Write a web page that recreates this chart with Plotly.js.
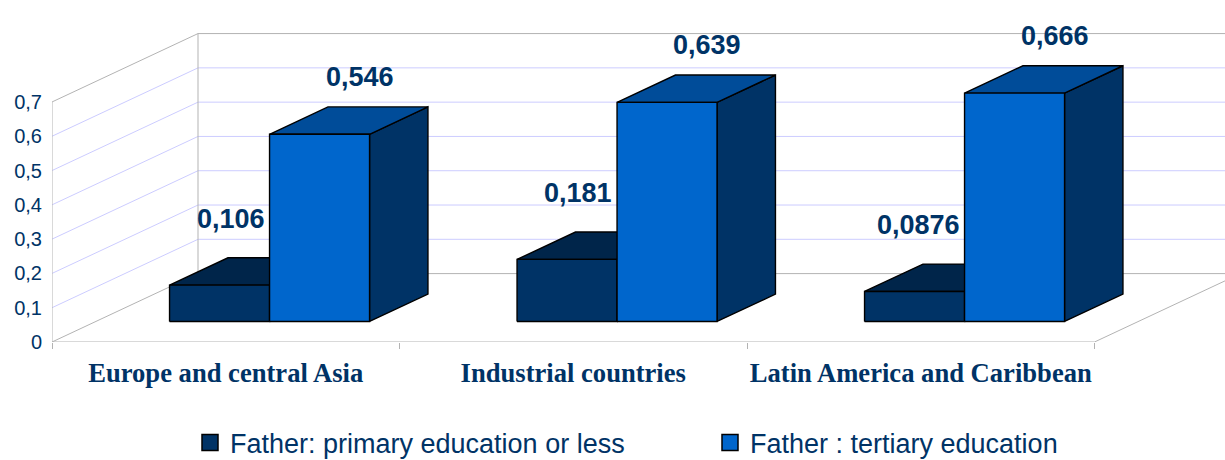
<!DOCTYPE html>
<html><head><meta charset="utf-8">
<script src="https://cdn.plot.ly/plotly-3.0.1.min.js"></script>
<style>html,body{margin:0;padding:0;background:#fff;}#chart{width:1225px;height:460px;}</style>
</head><body><div id="chart"></div>
<script>
const categories = ["Europe and central Asia", "Industrial countries", "Latin America and Caribbean"];
const seriesNames = ["Father: primary education or less", "Father : tertiary education"];
const primaryValues = [0.106, 0.181, 0.0876];
const tertiaryValues = [0.546, 0.639, 0.666];
const primaryLabels = ["0,106", "0,181", "0,0876"];
const tertiaryLabels = ["0,546", "0,639", "0,666"];
const yTickValues = [0, 0.1, 0.2, 0.3, 0.4, 0.5, 0.6, 0.7];
const yTickLabels = ["0", "0,1", "0,2", "0,3", "0,4", "0,5", "0,6", "0,7"];

// ---- geometry / style (pixels) ----
const W = 1225, H = 460;
const L = 52, FLOOR_Y = 342;
const CAT_PX = 347.5, VAL_PX = 342.9;
const DEPTH_PX_X = 146, DEPTH_PX_Y = 68.4;
const xu = px => px / CAT_PX;
const yu = px => px / VAL_PX;
const DX = xu(DEPTH_PX_X), DY = yu(DEPTH_PX_Y);
const T0 = 0.3, T1 = 0.7;
const BAR_W = xu(100);
const nCat = categories.length;
const yMax = yTickValues[yTickValues.length - 1];
const NAVY = '#003366';
const GRID = '#ccccff', EDGE = '#b3b3b3';

const colors = {
  primary: {front: '#003366', top: '#00254a', side: '#001a33'},
  tertiary: {front: '#0066cc', top: '#004c99', side: '#003366'}
};

function P(x, y, t) { return [x + t * DX, y + t * DY]; }

function poly(pts, fill) {
  const xs = pts.map(p => p[0]), ys = pts.map(p => p[1]);
  xs.push(xs[0]); ys.push(ys[0]);
  return {type: 'scatter', mode: 'lines', x: xs, y: ys, fill: 'toself', fillcolor: fill,
          line: {color: '#000000', width: 1.4}, hoverinfo: 'skip', showlegend: false};
}

function barFaces(a, b, v, c) {
  return [
    poly([P(b, 0, T0), P(b, 0, T1), P(b, v, T1), P(b, v, T0)], c.side),
    poly([P(a, v, T0), P(b, v, T0), P(b, v, T1), P(a, v, T1)], c.top),
    poly([P(a, 0, T0), P(b, 0, T0), P(b, v, T0), P(a, v, T0)], c.front)
  ];
}

const labelFont = {family: 'Liberation Sans', size: 27, color: NAVY, weight: 'bold'};
const traces = [];
const annotations = [];
categories.forEach((cat, i) => {
  const c = i + 0.5;
  const pv = primaryValues[i], tv = tertiaryValues[i];
  traces.push(...barFaces(c - BAR_W, c, pv, colors.primary));
  traces.push(...barFaces(c, c + BAR_W, tv, colors.tertiary));
  const pf = P(c, pv, T0);
  annotations.push({x: pf[0], y: pf[1], xref: 'x', yref: 'y', text: primaryLabels[i], showarrow: false,
    xanchor: 'right', yanchor: 'middle', xshift: -3, yshift: 66, font: labelFont});
  const tf = P(c + BAR_W / 2, tv, T0);
  annotations.push({x: tf[0] + 0.5 * (T1 - T0) * DX, y: tf[1], xref: 'x', yref: 'y', text: tertiaryLabels[i], showarrow: false,
    xanchor: 'center', yanchor: 'middle', xshift: 11, yshift: 57, font: labelFont});
});

// legend entries
traces.push({type: 'scatter', mode: 'markers', x: [null], y: [null], name: seriesNames[0],
  marker: {symbol: 'square', size: 16, color: colors.primary.front, line: {color: '#000', width: 1.5}}});
traces.push({type: 'scatter', mode: 'markers', x: [null], y: [null], name: seriesNames[1],
  marker: {symbol: 'square', size: 16, color: colors.tertiary.front, line: {color: '#000', width: 1.5}}});

// walls & grid
const shapes = [];
function seg(x0, y0, x1, y1, color) {
  shapes.push({type: 'line', xref: 'x', yref: 'y', x0, y0, x1, y1, layer: 'below',
    line: {color, width: 1}});
}
yTickValues.forEach(v => {
  const col = (v === 0 || v === yMax) ? EDGE : GRID;
  seg(0, v, DX, v + DY, col);
  seg(DX, v + DY, nCat + DX, v + DY, col);
});
seg(0, 0, 0, yMax, EDGE);
seg(DX, DY, DX, yMax + DY, EDGE);
seg(0, 0, nCat, 0, EDGE);
seg(nCat, 0, nCat + DX, DY, EDGE);

const layout = {
  width: W, height: H,
  margin: {l: L, r: 0, t: 0, b: H - FLOOR_Y, pad: 0, autoexpand: false},
  paper_bgcolor: '#ffffff', plot_bgcolor: '#ffffff',
  showlegend: true,
  xaxis: {range: [0, xu(W - L)], showgrid: false, zeroline: false, showline: false,
    tickmode: 'array', tickvals: categories.map((_, i) => i + 0.5), ticktext: categories,
    ticks: '', ticklabelstandoff: 12,
    tickfont: {family: 'Liberation Serif', size: 26.6, color: NAVY, weight: 'bold'},
    minor: {tickmode: 'array', tickvals: categories.map((_, i) => i).concat([nCat]), ticks: 'outside', ticklen: 6, tickcolor: EDGE, tickwidth: 1, showgrid: false},
    fixedrange: true, automargin: false},
  yaxis: {range: [0, yu(FLOOR_Y)], showgrid: false, zeroline: false, showline: false,
    tickmode: 'array', tickvals: yTickValues, ticktext: yTickLabels, ticks: '', ticklabelstandoff: 9,
    tickfont: {family: 'Liberation Sans', size: 20, color: NAVY}, fixedrange: true, automargin: false},
  legend: {orientation: 'h', xref: 'container', yref: 'container', x: 190 / W, xanchor: 'left', y: (H - 443) / H, yanchor: 'middle',
    font: {family: 'Liberation Sans', size: 27, color: NAVY}, itemwidth: 30, entrywidth: 475, entrywidthmode: 'pixels',
    bgcolor: 'rgba(0,0,0,0)'},
  shapes, annotations
};

Plotly.newPlot('chart', traces, layout, {displayModeBar: false, staticPlot: true});
</script>
</body></html>
